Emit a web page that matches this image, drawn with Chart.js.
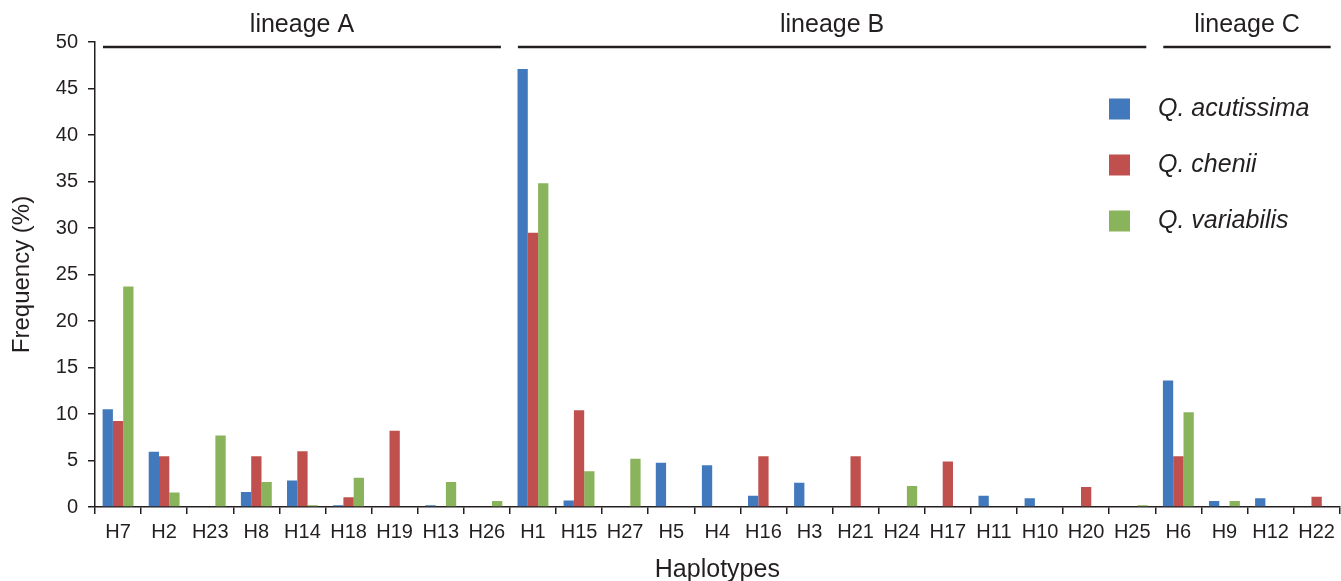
<!DOCTYPE html>
<html>
<head>
<meta charset="utf-8">
<script src="https://cdn.jsdelivr.net/npm/chart.js@4.4.1/dist/chart.umd.min.js"></script>
<style>
  html, body { margin: 0; padding: 0; background: #fff; }
  #wrap { width: 1341px; height: 581px; }
</style>
</head>
<body>
<div id="wrap"><canvas id="chart-bars"></canvas></div>
<script>
// Haplotype categories and frequencies (%) per species
const haplotypes = ["H7", "H2", "H23", "H8", "H14", "H18", "H19", "H13", "H26",
    "H1", "H15", "H27", "H5", "H4", "H16", "H3", "H21", "H24", "H17", "H11", "H10", "H20", "H25",
    "H6", "H9", "H12", "H22"];
const acutissima = [10.5, 5.95, 0, 1.6, 2.85, 0.2, 0, 0.2, 0,
    47.1, 0.7, 0, 4.75, 4.5, 1.2, 2.6, 0, 0, 0, 1.2, 0.95, 0, 0,
    13.6, 0.65, 0.95, 0];
const chenii = [9.25, 5.45, 0, 5.45, 6.0, 1.05, 8.2, 0, 0,
    29.5, 10.4, 0, 0, 0, 5.45, 0, 5.45, 0, 4.9, 0, 0, 2.15, 0,
    5.45, 0, 0, 1.1];
const variabilis = [23.7, 1.55, 7.7, 2.7, 0.2, 3.15, 0, 2.7, 0.65,
    34.8, 3.85, 5.2, 0, 0, 0, 0, 0, 2.25, 0, 0, 0, 0, 0.2,
    10.2, 0.65, 0, 0];
const yTicks = [0, 5, 10, 15, 20, 25, 30, 35, 40, 45, 50];

// lineage groups: first and last haplotype index
const lineageNames = ["lineage A", "lineage B", "lineage C"];
const lineageStart = [0, 9, 23];
const lineageEnd = [8, 22, 26];

const ink = "#231f20";
const fontFamily = "'Liberation Sans', Arial, sans-serif";

// Draw lineage brackets above the bars
const lineagePlugin = {
    id: "lineages",
    afterDraw(chart) {
        const c = chart.ctx;
        const x = chart.scales.x;
        c.save();
        c.strokeStyle = ink;
        c.fillStyle = ink;
        c.lineWidth = 2.5;
        c.font = "25px " + fontFamily;
        c.textAlign = "center";
        c.textBaseline = "middle";
        lineageNames.forEach((name, i) => {
            const x0 = x.getPixelForValue(lineageStart[i] - 0.5) + 8;
            const x1 = x.getPixelForValue(lineageEnd[i] + 0.5) - 9;
            c.beginPath();
            c.moveTo(x0, 47);
            c.lineTo(x1, 47);
            c.stroke();
            c.fillText(name, (x0 + x1) / 2, 25);
        });
        c.restore();
    }
};

// Legend drawn on the right, square markers with italic names
const legendPlugin = {
    id: "sideLegend",
    afterDraw(chart) {
        const c = chart.ctx;
        c.save();
        c.font = "italic 25px " + fontFamily;
        c.textBaseline = "middle";
        c.textAlign = "left";
        chart.data.datasets.forEach((ds, i) => {
            const y = 109 + i * 56;
            c.fillStyle = ds.backgroundColor;
            c.fillRect(1109, y - 10.5, 21, 21);
            c.fillStyle = ink;
            c.fillText(ds.label, 1158, y);
        });
        c.restore();
    }
};

const chartConfig = {
    type: "bar",
    data: {
        labels: haplotypes,
        datasets: [{
            label: "Q. acutissima",
            data: acutissima,
            backgroundColor: "#4279bd"
        }, {
            label: "Q. chenii",
            data: chenii,
            backgroundColor: "#c0504d"
        }, {
            label: "Q. variabilis",
            data: variabilis,
            backgroundColor: "#8ab45c"
        }]
    },
    options: {
        responsive: true,
        maintainAspectRatio: false,
        animation: false,
        categoryPercentage: 0.67,
        barPercentage: 1.0,
        layout: {
            padding: { top: 42, right: 1, left: 0, bottom: 0 }
        },
        plugins: {
            legend: { display: false },
            tooltip: { enabled: false }
        },
        scales: {
            x: {
                offset: true,
                afterFit(scale) { scale.height = 74; },
                grid: {
                    offset: true,
                    display: true,
                    drawOnChartArea: false,
                    drawTicks: true,
                    tickLength: 7,
                    color: ink,
                    lineWidth: 1.5
                },
                border: { display: true, color: ink, width: 1.5 },
                ticks: {
                    color: ink,
                    padding: 6,
                    maxRotation: 0,
                    autoSkip: false,
                    font: { size: 20, family: fontFamily }
                },
                title: {
                    display: true,
                    text: "Haplotypes",
                    color: ink,
                    padding: { top: 7, bottom: -4 },
                    font: { size: 25, family: fontFamily }
                }
            },
            y: {
                min: 0,
                max: 50,
                afterFit(scale) { scale.width = 95; },
                afterBuildTicks(scale) {
                    scale.ticks = yTicks.map(v => ({ value: v }));
                },
                grid: {
                    display: true,
                    drawOnChartArea: false,
                    drawTicks: true,
                    tickLength: 7,
                    color: ink,
                    lineWidth: 1.5
                },
                border: { display: true, color: ink, width: 1.5 },
                ticks: {
                    color: ink,
                    padding: 10,
                    font: { size: 20, family: fontFamily }
                },
                title: {
                    display: true,
                    text: "Frequency (%)",
                    color: ink,
                    padding: { top: 8, bottom: 4 },
                    font: { size: 24, family: fontFamily }
                }
            }
        }
    },
    plugins: [lineagePlugin, legendPlugin]
};

const ctx = document.getElementById("chart-bars").getContext("2d");
const chart1 = new Chart(ctx, chartConfig);
</script>
</body>
</html>
